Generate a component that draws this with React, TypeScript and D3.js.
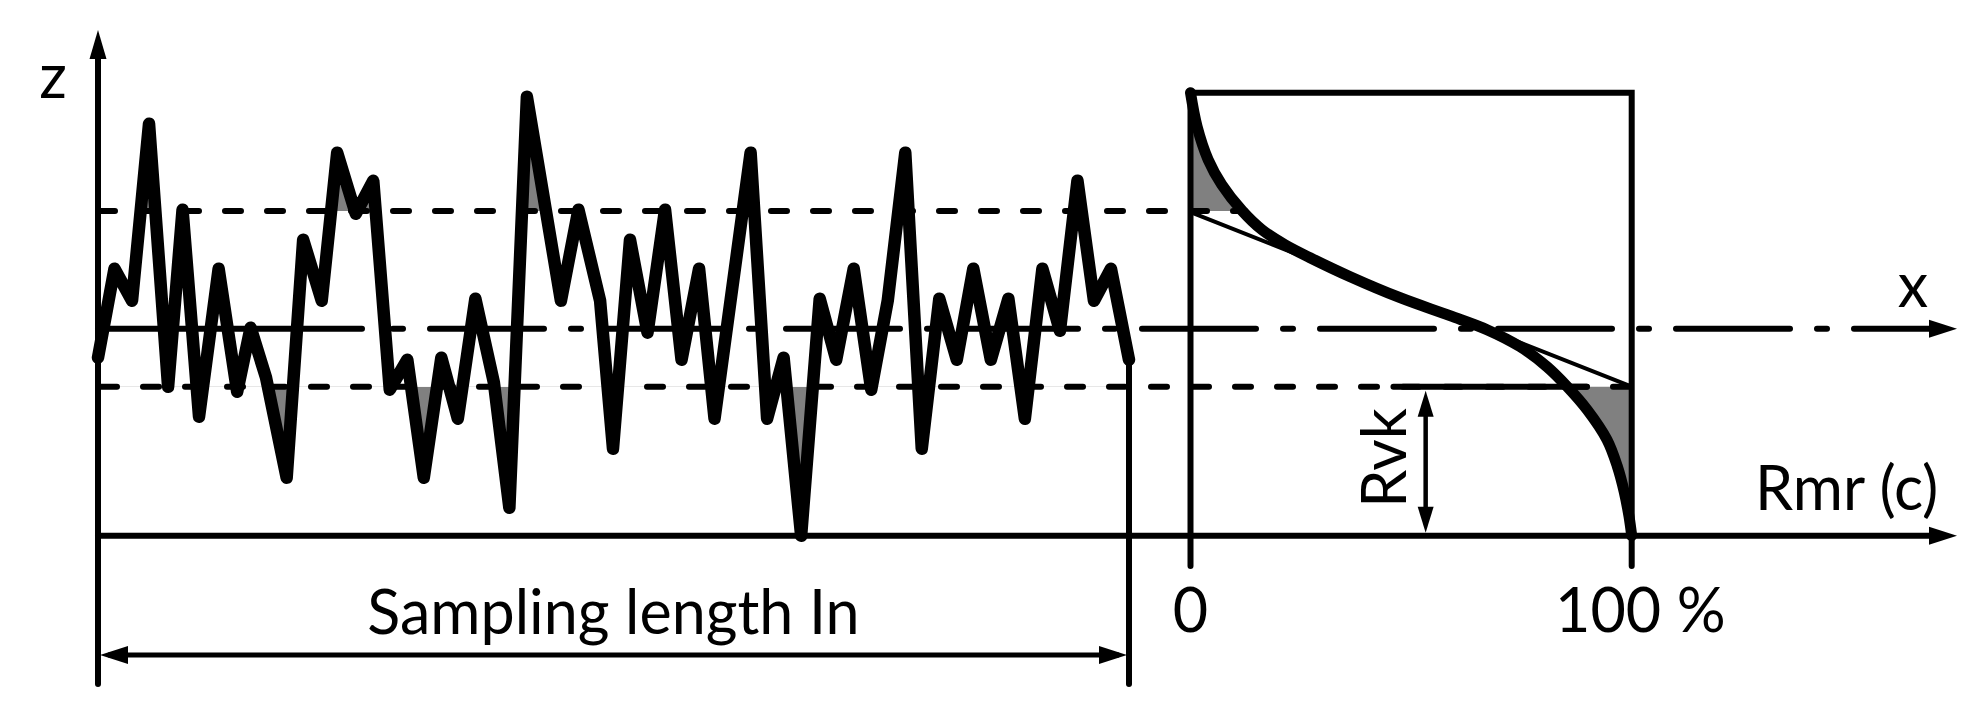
import React from "react";
import * as d3 from "d3";

// ---------- data ----------
// roughness profile: position along sampling length (% of ln) and height z (µm, mean line = 0)
const profileX = [0, 1.6, 3.3, 4.95, 6.8, 8.2, 9.8, 11.7, 13.5, 14.8, 16.3, 18.3, 19.9, 21.7, 23.2, 25.0, 26.7, 28.3, 30.0, 31.6, 33.3, 34.9, 36.6, 38.4, 39.9, 41.6, 44.9, 46.6, 48.7, 49.95, 51.6, 53.3, 55.0, 56.6, 58.3, 59.8, 63.3, 64.9, 66.5, 68.2, 70.0, 71.6, 73.3, 75.0, 76.6, 78.3, 79.9, 81.6, 83.3, 84.9, 86.6, 88.3, 89.9, 91.6, 93.3, 95.0, 96.6, 98.25, 100];
const profileZ = [-2.9, 6.0, 2.8, 20.5, -5.8, 11.9, -8.8, 6.0, -6.3, 0.1, -4.9, -14.9, 8.9, 2.8, 17.6, 11.5, 14.8, -6.1, -3.1, -14.9, -2.9, -9.0, 3.0, -5.4, -17.9, 23.2, 2.8, 11.9, 2.8, -12.0, 8.9, -0.4, 11.9, -3.1, 6.0, -9.0, 17.6, -9.0, -2.9, -20.7, 3.0, -3.1, 6.0, -6.1, 2.8, 17.6, -12.0, 3.0, -3.1, 6.0, -3.1, 3.0, -9.0, 6.0, -0.2, 14.8, 2.8, 6.0, -3.1];

// material ratio (Abbott-Firestone) curve: Rmr (%) vs z
const curveRmr = [0, 1.5, 4.0, 7.1, 11.7, 16.2, 21.4, 27.1, 36.2, 47.5, 58.8, 67.2, 74.7, 80.8, 85.4, 89.9, 94.4, 96.7, 98.3, 99.4, 100];
const curveZ = [23.6, 20.2, 16.9, 14.4, 11.8, 9.9, 8.4, 7.1, 5.2, 3.1, 1.3, -0.1, -1.8, -3.8, -5.8, -8.1, -11.1, -13.7, -16.3, -18.8, -20.7];

// reference levels (z)
const Z_MAX = 23.6;
const Z_MIN = -20.7;
const CORE_TOP = 11.77;
const CORE_BOTTOM = -5.8;
const EQ_LINE_Z = [11.65, -5.8]; // equivalent straight line at Rmr 0% and 100%
const RVK_AT = 53.3; // Rmr position of the Rvk arrow
const RVK_LABEL_AT = 48.5;
const SOLID_LOWER = [46, 89.8]; // Rmr range of solid part of lower line
const UPPER_DASH_END = 12.4; // Rmr where upper dashed line stops

const rmrTicks = ["0", "100 %"];

// ---------- layout ----------
const W = 1987;
const H = 713;
const X0 = 98;
const X1 = 1129;
const BL = 1190.5;
const BR = 1631.7;
const AXIS_END = 1957;
const FONT = "Lato, 'Open Sans', sans-serif";
const FS = 61;
const LW = 6;

const xS = d3.scaleLinear().domain([0, 100]).range([X0, X1]);
const zS = d3.scaleLinear().domain([Z_MIN, Z_MAX]).range([535.7, 92.7]);
const rS = d3.scaleLinear().domain([0, 100]).range([BL, BR]);

function arrowHead(tx: number, ty: number, dir: "up" | "down" | "left" | "right", len = 28, hw = 9) {
  let pts: [number, number][];
  if (dir === "right") pts = [[tx, ty], [tx - len, ty - hw], [tx - len, ty + hw]];
  else if (dir === "left") pts = [[tx, ty], [tx + len, ty - hw], [tx + len, ty + hw]];
  else if (dir === "up") pts = [[tx, ty], [tx - hw, ty + len], [tx + hw, ty + len]];
  else pts = [[tx, ty], [tx - hw, ty - len], [tx + hw, ty - len]];
  return <polygon points={pts.map((p) => p.join(",")).join(" ")} fill="#000" />;
}

export default function App() {
  const idx = profileZ.map((_, i) => i);
  const profLine = d3
    .line<number>()
    .x((i) => xS(profileX[i]))
    .y((i) => zS(profileZ[i]))(idx) as string;
  const upperArea = d3
    .area<number>()
    .x((i) => xS(profileX[i]))
    .y0(zS(CORE_TOP))
    .y1((i) => zS(profileZ[i]))(idx) as string;
  const lowerArea = d3
    .area<number>()
    .x((i) => xS(profileX[i]))
    .y0(zS(CORE_BOTTOM))
    .y1((i) => zS(profileZ[i]))(idx) as string;

  const cIdx = curveZ.map((_, i) => i);
  const mrLine = d3
    .line<number>()
    .x((i) => rS(curveRmr[i]))
    .y((i) => zS(curveZ[i]))
    .curve(d3.curveCatmullRom.alpha(0.5))(cIdx) as string;
  const yTop = zS(Z_MAX);
  const yBot = zS(Z_MIN);
  const leftOfCurve = `${mrLine}L${BL},${yBot}L${BL},${yTop}Z`;
  const rightOfCurve = `${mrLine}L${BR},${yBot}L${BR},${yTop}Z`;

  const yUp = zS(CORE_TOP);
  const yLo = zS(CORE_BOTTOM);
  const yMean = zS(0);

  return (
    <svg
      width={W}
      height={H}
      style={{ position: "absolute", left: 0, top: 0, background: "#fff" }}
      fontFamily={FONT}
    >
      <defs>
        <clipPath id="clipUp">
          <rect x={0} y={0} width={W} height={yUp} />
        </clipPath>
        <clipPath id="clipLo">
          <rect x={0} y={yLo} width={W} height={H - yLo} />
        </clipPath>
        <clipPath id="clipBoxUp">
          <rect x={BL} y={0} width={BR - BL} height={yUp} />
        </clipPath>
        <clipPath id="clipBoxLo">
          <rect x={BL} y={yLo} width={BR - BL} height={yBot - yLo} />
        </clipPath>
      </defs>

      {/* gray fills */}
      <path d={upperArea} fill="#808080" clipPath="url(#clipUp)" />
      <path d={lowerArea} fill="#808080" clipPath="url(#clipLo)" />
      <path d={leftOfCurve} fill="#808080" clipPath="url(#clipBoxUp)" />
      <path d={rightOfCurve} fill="#808080" clipPath="url(#clipBoxLo)" />

      {/* upper dashed line */}
      <line x1={X0 + 1} x2={rS(UPPER_DASH_END)} y1={yUp} y2={yUp} stroke="#000" strokeWidth={LW} strokeDasharray="16 26" strokeLinecap="round" />
      {/* lower dashed line */}
      <line x1={X0 + 3} x2={BR} y1={yLo} y2={yLo} stroke="#000" strokeWidth={LW} strokeDasharray="16 26" strokeLinecap="round" />
      <line x1={rS(SOLID_LOWER[0])} x2={rS(SOLID_LOWER[1])} y1={yLo} y2={yLo} stroke="#000" strokeWidth={LW} strokeLinecap="round" />

      {/* mean line / x axis */}
      <line x1={X0} x2={362} y1={yMean} y2={yMean} stroke="#000" strokeWidth={LW} strokeLinecap="round" />
      <line x1={393} x2={AXIS_END - 25} y1={yMean} y2={yMean} stroke="#000" strokeWidth={LW} strokeLinecap="round" strokeDasharray="10 27 114 27" />
      {arrowHead(AXIS_END, yMean, "right")}

      {/* bottom axis */}
      <line x1={X0} x2={AXIS_END - 20} y1={yBot} y2={yBot} stroke="#000" strokeWidth={LW} strokeLinecap="round" />
      {arrowHead(AXIS_END, yBot, "right")}

      {/* z axis */}
      <line x1={X0} x2={X0} y1={684} y2={50} stroke="#000" strokeWidth={LW} strokeLinecap="round" />
      {arrowHead(X0, 30, "up", 29, 8.5)}

      {/* end of sampling length */}
      <line x1={X1} x2={X1} y1={zS(profileZ[profileZ.length - 1])} y2={684} stroke="#000" strokeWidth={LW} strokeLinecap="round" />

      {/* sampling length arrow */}
      <line x1={X0 + 10} x2={X1 - 10} y1={655} y2={655} stroke="#000" strokeWidth={5} />
      {arrowHead(X0 + 2, 655, "left")}
      {arrowHead(X1 - 2, 655, "right")}

      {/* box */}
      <path d={`M${BL},566V${yTop}H${BR}V566`} fill="none" stroke="#000" strokeWidth={LW} strokeLinecap="round" />

      {/* equivalent straight line */}
      <line x1={rS(0)} y1={zS(EQ_LINE_Z[0])} x2={rS(100)} y2={zS(EQ_LINE_Z[1])} stroke="#000" strokeWidth={4} strokeLinecap="round" />

      {/* material ratio curve */}
      <path d={mrLine} fill="none" stroke="#000" strokeWidth={11} strokeLinecap="round" />

      {/* profile */}
      <path d={profLine} fill="none" stroke="#000" strokeWidth={12.5} strokeLinejoin="round" strokeLinecap="round" />

      {/* Rvk arrow */}
      <line x1={rS(RVK_AT)} x2={rS(RVK_AT)} y1={yLo + 20} y2={yBot - 20} stroke="#000" strokeWidth={4.5} />
      {arrowHead(rS(RVK_AT), yLo + 4, "up", 26, 8)}
      {arrowHead(rS(RVK_AT), yBot - 3, "down", 26, 8)}

      {/* labels */}
      <text x={53} y={98} fontSize={FS} textAnchor="middle">z</text>
      <text x={1913} y={307} fontSize={FS} textAnchor="middle">x</text>
      <text x={1755} y={510} fontSize={FS}>Rmr (c)</text>
      <text x={rS(0)} y={632} fontSize={FS} textAnchor="middle">{rmrTicks[0]}</text>
      <text x={1555} y={632} fontSize={FS}>{rmrTicks[1]}</text>
      <text x={(X0 + X1) / 2} y={634} fontSize={FS} textAnchor="middle">Sampling length In</text>
      <text transform={`translate(${rS(RVK_LABEL_AT) + 1.5},${458}) rotate(-90)`} fontSize={FS} textAnchor="middle">Rvk</text>
    </svg>
  );
}
